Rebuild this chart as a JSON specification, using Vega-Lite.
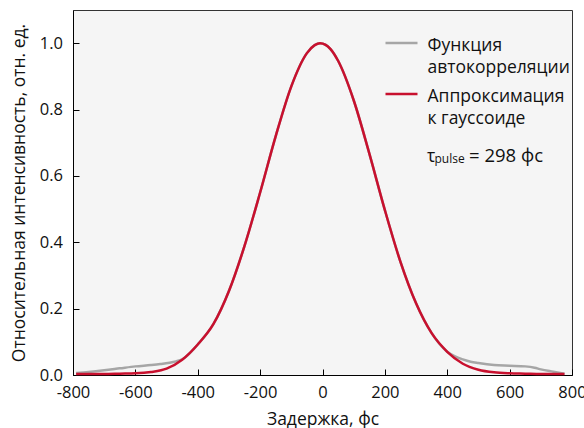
{
  "$schema": "https://vega.github.io/schema/vega-lite/v6.json",
  "width": 499,
  "height": 365,
  "autosize": {"type": "none"},
  "padding": {"left": 73, "top": 10, "right": 12, "bottom": 53},
  "background": "white",
  "config": {
    "font": "Open Sans",
    "view": {"fill": "#f5f5f5", "stroke": "#333333", "strokeWidth": 1},
    "axis": {
      "domainColor": "#000000",
      "tickColor": "#000000",
      "labelColor": "#111111",
      "titleColor": "#111111",
      "labelFontSize": 16.5,
      "titleFontSize": 17.5,
      "titleFontWeight": "normal",
      "grid": false,
      "tickSize": -6
    }
  },
  "datasets": {
    "curves": [
      {"series": "Функция автокорреляции", "x": -790, "y": 0.006},
      {"series": "Функция автокорреляции", "x": -750, "y": 0.009},
      {"series": "Функция автокорреляции", "x": -700, "y": 0.014},
      {"series": "Функция автокорреляции", "x": -650, "y": 0.020},
      {"series": "Функция автокорреляции", "x": -600, "y": 0.026},
      {"series": "Функция автокорреляции", "x": -550, "y": 0.030},
      {"series": "Функция автокорреляции", "x": -520, "y": 0.033},
      {"series": "Функция автокорреляции", "x": -490, "y": 0.037},
      {"series": "Функция автокорреляции", "x": -470, "y": 0.041},
      {"series": "Функция автокорреляции", "x": -450, "y": 0.047},
      {"series": "Функция автокорреляции", "x": -400, "y": 0.092},
      {"series": "Функция автокорреляции", "x": -350, "y": 0.153},
      {"series": "Функция автокорреляции", "x": -300, "y": 0.253},
      {"series": "Функция автокорреляции", "x": -250, "y": 0.389},
      {"series": "Функция автокорреляции", "x": -200, "y": 0.550},
      {"series": "Функция автокорреляции", "x": -150, "y": 0.720},
      {"series": "Функция автокорреляции", "x": -100, "y": 0.870},
      {"series": "Функция автокорреляции", "x": -50, "y": 0.970},
      {"series": "Функция автокорреляции", "x": -25, "y": 0.994},
      {"series": "Функция автокорреляции", "x": -8, "y": 1.0},
      {"series": "Функция автокорреляции", "x": 10, "y": 0.995},
      {"series": "Функция автокорреляции", "x": 25, "y": 0.983},
      {"series": "Функция автокорреляции", "x": 50, "y": 0.947},
      {"series": "Функция автокорреляции", "x": 100, "y": 0.828},
      {"series": "Функция автокорреляции", "x": 150, "y": 0.668},
      {"series": "Функция автокорреляции", "x": 200, "y": 0.497},
      {"series": "Функция автокорреляции", "x": 250, "y": 0.341},
      {"series": "Функция автокорреляции", "x": 300, "y": 0.216},
      {"series": "Функция автокорреляции", "x": 350, "y": 0.126},
      {"series": "Функция автокорреляции", "x": 400, "y": 0.070},
      {"series": "Функция автокорреляции", "x": 425, "y": 0.056},
      {"series": "Функция автокорреляции", "x": 450, "y": 0.047},
      {"series": "Функция автокорреляции", "x": 475, "y": 0.040},
      {"series": "Функция автокорреляции", "x": 500, "y": 0.036},
      {"series": "Функция автокорреляции", "x": 550, "y": 0.030},
      {"series": "Функция автокорреляции", "x": 600, "y": 0.028},
      {"series": "Функция автокорреляции", "x": 650, "y": 0.026},
      {"series": "Функция автокорреляции", "x": 680, "y": 0.022},
      {"series": "Функция автокорреляции", "x": 700, "y": 0.017},
      {"series": "Функция автокорреляции", "x": 740, "y": 0.010},
      {"series": "Функция автокорреляции", "x": 776, "y": 0.004},
      {"series": "Аппроксимация к гауссоиде", "x": -790, "y": 0.003},
      {"series": "Аппроксимация к гауссоиде", "x": -750, "y": 0.003},
      {"series": "Аппроксимация к гауссоиде", "x": -700, "y": 0.003},
      {"series": "Аппроксимация к гауссоиде", "x": -650, "y": 0.004},
      {"series": "Аппроксимация к гауссоиде", "x": -600, "y": 0.005},
      {"series": "Аппроксимация к гауссоиде", "x": -550, "y": 0.009},
      {"series": "Аппроксимация к гауссоиде", "x": -500, "y": 0.019},
      {"series": "Аппроксимация к гауссоиде", "x": -450, "y": 0.046},
      {"series": "Аппроксимация к гауссоиде", "x": -400, "y": 0.092},
      {"series": "Аппроксимация к гауссоиде", "x": -350, "y": 0.153},
      {"series": "Аппроксимация к гауссоиде", "x": -300, "y": 0.253},
      {"series": "Аппроксимация к гауссоиде", "x": -250, "y": 0.389},
      {"series": "Аппроксимация к гауссоиде", "x": -200, "y": 0.550},
      {"series": "Аппроксимация к гауссоиде", "x": -150, "y": 0.720},
      {"series": "Аппроксимация к гауссоиде", "x": -100, "y": 0.870},
      {"series": "Аппроксимация к гауссоиде", "x": -50, "y": 0.970},
      {"series": "Аппроксимация к гауссоиде", "x": -25, "y": 0.994},
      {"series": "Аппроксимация к гауссоиде", "x": -8, "y": 1.0},
      {"series": "Аппроксимация к гауссоиде", "x": 10, "y": 0.995},
      {"series": "Аппроксимация к гауссоиде", "x": 25, "y": 0.983},
      {"series": "Аппроксимация к гауссоиде", "x": 50, "y": 0.947},
      {"series": "Аппроксимация к гауссоиде", "x": 100, "y": 0.828},
      {"series": "Аппроксимация к гауссоиде", "x": 150, "y": 0.668},
      {"series": "Аппроксимация к гауссоиде", "x": 200, "y": 0.497},
      {"series": "Аппроксимация к гауссоиде", "x": 250, "y": 0.341},
      {"series": "Аппроксимация к гауссоиде", "x": 300, "y": 0.216},
      {"series": "Аппроксимация к гауссоиде", "x": 350, "y": 0.126},
      {"series": "Аппроксимация к гауссоиде", "x": 400, "y": 0.070},
      {"series": "Аппроксимация к гауссоиде", "x": 450, "y": 0.034},
      {"series": "Аппроксимация к гауссоиде", "x": 500, "y": 0.016},
      {"series": "Аппроксимация к гауссоиде", "x": 550, "y": 0.008},
      {"series": "Аппроксимация к гауссоиде", "x": 600, "y": 0.005},
      {"series": "Аппроксимация к гауссоиде", "x": 650, "y": 0.004},
      {"series": "Аппроксимация к гауссоиде", "x": 700, "y": 0.003},
      {"series": "Аппроксимация к гауссоиде", "x": 750, "y": 0.003},
      {"series": "Аппроксимация к гауссоиде", "x": 776, "y": 0.003}
    ],
    "note": [
      {"part": "tau", "t": "τ"},
      {"part": "sub", "t": "pulse"},
      {"part": "rest", "t": "= 298 фс"}
    ]
  },
  "layer": [
    {
      "data": {"name": "curves"},
      "transform": [{"filter": "datum.series == 'Функция автокорреляции'"}],
      "mark": {"type": "line", "strokeWidth": 2.5, "interpolate": "monotone"},
      "encoding": {
        "x": {
          "field": "x",
          "type": "quantitative",
          "scale": {"domain": [-800, 800], "nice": false, "zero": false},
          "axis": {
            "title": "Задержка, фс",
            "values": [-800, -700, -600, -500, -400, -300, -200, -100, 0, 100, 200, 300, 400, 500, 600, 700, 800],
            "labelExpr": "datum.value % 200 == 0 ? '' + datum.value : ''",
            "labelFlush": false,
            "labelOverlap": false,
            "labelPadding": 15,
            "titlePadding": 9.5
          }
        },
        "y": {
          "field": "y",
          "type": "quantitative",
          "scale": {"domain": [0, 1.1], "nice": false},
          "axis": {
            "title": "Относительная интенсивность, отн. ед.",
            "values": [0, 0.1, 0.2, 0.3, 0.4, 0.5, 0.6, 0.7, 0.8, 0.9, 1.0],
            "labelExpr": "round(datum.value * 10) % 2 == 0 ? format(datum.value, '.1f') : ''",
            "labelFlush": false,
            "labelOverlap": false,
            "labelPadding": 16.5,
            "titlePadding": 11
          }
        },
        "color": {
          "field": "series",
          "type": "nominal",
          "scale": {"domain": ["Функция автокорреляции", "Аппроксимация к гауссоиде"], "range": ["#a6a6a6", "#c8102e"]},
          "legend": {
            "orient": "none",
            "legendX": 311,
            "legendY": 15.5,
            "title": null,
            "padding": 0,
            "symbolType": "stroke",
            "symbolSize": 1024,
            "symbolStrokeWidth": 2.5,
            "labelFontSize": 17.5,
            "labelColor": "#111111",
            "labelOffset": 8.5,
            "labelLimit": 300,
            "labelBaseline": "middle",
            "rowPadding": 0,
            "encoding": {"labels": {"lineHeight": {"value": 21.5}, "dy": {"value": 3}}},
            "labelExpr": "datum.label == 'Функция автокорреляции' ? ['Функция', 'автокорреляции'] : ['Аппроксимация', 'к гауссоиде']"
          }
        }
      }
    },
    {
      "data": {"name": "curves"},
      "transform": [{"filter": "datum.series == 'Аппроксимация к гауссоиде'"}],
      "mark": {"type": "line", "strokeWidth": 2.5, "interpolate": "monotone"},
      "encoding": {
        "x": {"field": "x", "type": "quantitative"},
        "y": {"field": "y", "type": "quantitative"},
        "color": {"field": "series", "type": "nominal"}
      }
    },
    {
      "data": {"name": "note"},
      "transform": [{"filter": "datum.part == 'tau'"}],
      "mark": {"type": "text", "align": "left", "baseline": "alphabetic", "fontSize": 17.5, "color": "#111111"},
      "encoding": {"x": {"datum": 335, "type": "quantitative"}, "y": {"datum": 0.642, "type": "quantitative"}, "text": {"field": "t", "type": "nominal"}}
    },
    {
      "data": {"name": "note"},
      "transform": [{"filter": "datum.part == 'sub'"}],
      "mark": {"type": "text", "align": "left", "baseline": "alphabetic", "fontSize": 12, "color": "#111111"},
      "encoding": {"x": {"datum": 359, "type": "quantitative"}, "y": {"datum": 0.639, "type": "quantitative"}, "text": {"field": "t", "type": "nominal"}}
    },
    {
      "data": {"name": "note"},
      "transform": [{"filter": "datum.part == 'rest'"}],
      "mark": {"type": "text", "align": "left", "baseline": "alphabetic", "fontSize": 18.5, "color": "#111111"},
      "encoding": {"x": {"datum": 470, "type": "quantitative"}, "y": {"datum": 0.642, "type": "quantitative"}, "text": {"field": "t", "type": "nominal"}}
    }
  ]
}
